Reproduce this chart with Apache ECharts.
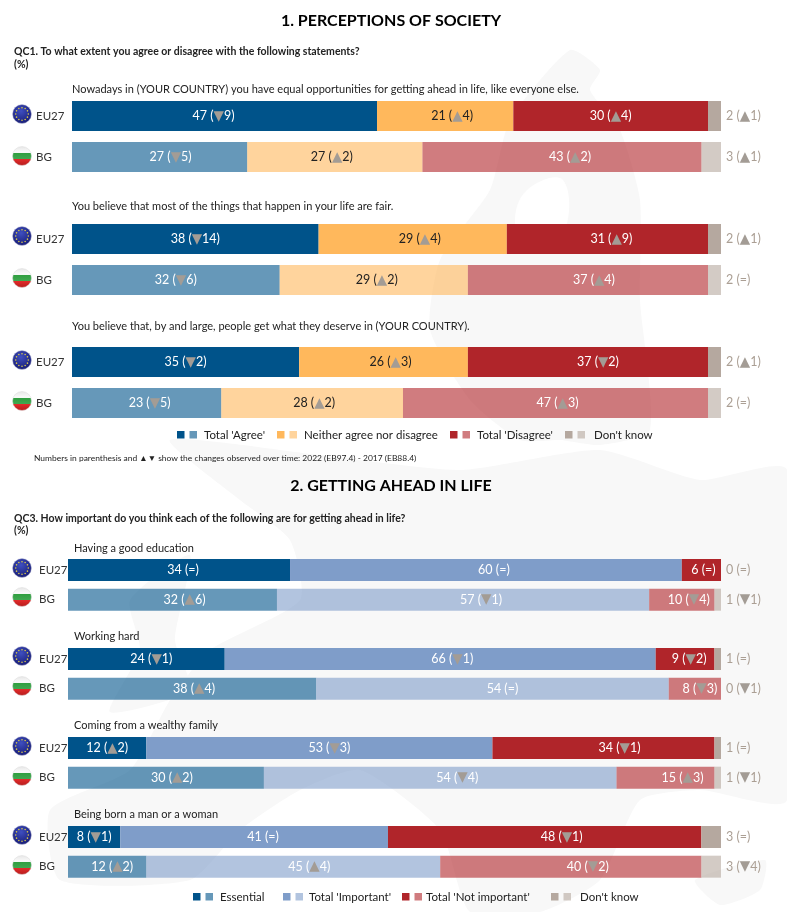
<!DOCTYPE html>
<html><head><meta charset="utf-8">
<style>html,body{margin:0;padding:0;background:#fff}#c{width:787px;height:912px}</style>
<script src="https://cdn.jsdelivr.net/npm/echarts@6/dist/echarts.min.js"></script>
</head><body><div id="c"></div>
<script>
const rowLabels1 = ['EU27','BG','','EU27','BG','','EU27','BG'];
const agree    = [47,27,'-',38,32,'-',35,23];
const neither  = [21,27,'-',29,29,'-',26,28];
const disagree = [30,43,'-',31,37,'-',37,47];
const dk1      = [2,3,'-',2,2,'-',2,2];
const agreeChg    = ['▼9','▼5','','▼14','▼6','','▼2','▼5'];
const neitherChg  = ['▲4','▲2','','▲4','▲2','','▲3','▲2'];
const disagreeChg = ['▲4','▲2','','▲9','▲4','','▼2','▲3'];
const dk1Chg      = ['▲1','▲1','','▲1','=','','▲1','='];

const rowLabels2 = ['EU27','BG','','EU27','BG','','EU27','BG','','EU27','BG'];
const essential = [34,32,'-',24,38,'-',12,30,'-',8,12];
const important = [60,57,'-',66,54,'-',53,54,'-',41,45];
const notImp    = [6,10,'-',9,8,'-',34,15,'-',48,40];
const dk2       = [0,1,'-',1,0,'-',1,1,'-',3,3];
const essentialChg = ['=','▲6','','▼1','▲4','','▲2','▲2','','▼1','▲2'];
const importantChg = ['=','▼1','','▼1','=','','▼3','▼4','','=','▲4'];
const notImpChg    = ['=','▼4','','▼2','▼3','','▼1','▲3','','▼1','▼2'];
const dk2Chg       = ['=','▼1','','=','▼1','','=','▼1','','=','▼4'];

const heading1 = '1. PERCEPTIONS OF SOCIETY';
const heading2 = '2. GETTING AHEAD IN LIFE';
const question1 = 'QC1. To what extent you agree or disagree with the following statements?';
const question2 = 'QC3. How important do you think each of the following are for getting ahead in life?';
const statements = ['Nowadays in (YOUR COUNTRY) you have equal opportunities for getting ahead in life, like everyone else.',
  'You believe that most of the things that happen in your life are fair.',
  'You believe that, by and large, people get what they deserve in (YOUR COUNTRY).'];
const factors = ['Having a good education','Working hard','Coming from a wealthy family','Being born a man or a woman'];
const note = 'Numbers in parenthesis and ▲▼ show the changes observed over time: 2022 (EB97.4) - 2017 (EB88.4)';
const legend1 = ["Total 'Agree'",'Neither agree nor disagree',"Total 'Disagree'","Don't know"];
const legend2 = ['Essential',"Total 'Important'","Total 'Not important'","Don't know"];

const FONT = 'Lato, "Open Sans", sans-serif';
const BLUE='#00538a', ORANGE='#ffb85c', RED='#b0252a', GREY='#b5a89f', MID='#7f9dc9';
const BG_ALPHA = 0.6;

/* horizontal label nudges in px (layout only), per series */
const NUDGE = {
  agree:[-11,11,0,0,0,0,0,3],
  neither:[7,-3,0,7,3,0,7,2],
  disagree:[0,8,0,4,6,0,10,2],
  essential:[4,12,0,5,2,0,0,6,0,0,5],
  important:[8,18,0,12,10,0,10,17,0,9,16],
  notImportant:[2,7,0,4,5,0,16,17,0,17,17]
};

function richLabel(color, size){
  return {
    color, fontFamily: FONT, fontSize: size,
    rich: { t: { color:'#a39c95', fontFamily:'"DejaVu Sans"', fontSize: size+1 } }
  };
}
function fmtChange(c){
  if (c === '=' ) return '(=)';
  return '({t|' + c[0] + '}' + c.slice(1) + ')';
}
function makeSeries(name, values, changes, color, axis, labelColor, outer, size){
  const nudge = NUDGE[name] || [];
  return {
    name, type:'bar', stack:'s'+axis, xAxisIndex:axis, yAxisIndex:axis,
    barWidth: axis === 0 ? 30 : 22, silent:true,
    data: values.map((v,i)=>({
      value:v,
      itemStyle:{ color: i%3===1 ? echarts.color.modifyAlpha(color,BG_ALPHA) : color },
      label:{ offset:[nudge[i]||0,0] }
    })),
    label: Object.assign({
      show:true, position: outer ? 'right' : 'inside', distance:5,
      formatter: p => p.value === '-' ? '' : p.value + ' ' + fmtChange(changes[p.dataIndex])
    }, richLabel(labelColor, size))
  };
}
const OUT = '#ab9f94';
const series = [
  makeSeries('agree',agree,agreeChg,BLUE,0,'#fff',false,12.5),
  makeSeries('neither',neither,neitherChg,ORANGE,0,'#222',false,12.5),
  makeSeries('disagree',disagree,disagreeChg,RED,0,'#fff',false,12.5),
  makeSeries('dk',dk1,dk1Chg,GREY,0,OUT,true,12.5),
  makeSeries('essential',essential,essentialChg,BLUE,1,'#fff',false,12.5),
  makeSeries('important',important,importantChg,MID,1,'#fff',false,12.5),
  makeSeries('notImportant',notImp,notImpChg,RED,1,'#fff',false,12.5),
  makeSeries('dk2',dk2,dk2Chg,GREY,1,OUT,true,12.5)
];

function t(text,left,top,size,weight,align,color){
  return {text,left,top,padding:0,textAlign:align||'left',
    textStyle:{fontFamily:FONT,fontSize:size,fontWeight:weight||'normal',color:color||'#222'}};
}
const titles = [
  t(heading1,391,13,16,'bold','center','#000'),
  t(heading2,391,478,16,'bold','center','#000'),
  t(question1,14,46,10.5,'bold'),
  t('(%)',14,59,10.5,'bold'),
  t(question2,14,513,10.5,'bold'),
  t('(%)',14,525,10.5,'bold'),
  t(statements[0],72,84,11),
  t(statements[1],72,201,11),
  t(statements[2],72,321,11),
  t(factors[0],74,543,11),
  t(factors[1],74,631,11),
  t(factors[2],74,720,11),
  t(factors[3],74,809,11),
  t(note,34,454,8.45)
];

/* decorative pale map watermark */
const MAP='#f8f8f8';
const land = [
  [[570,50],[600,70],[590,90],[620,130],[640,200],[640,300],[650,430],[600,445],[560,440],[520,440],[470,400],[430,330],[440,260],[490,190],[510,120]],
  [[170,440],[320,455],[460,470],[600,450],[700,480],[787,470],[787,800],[700,790],[640,800],[600,880],[540,912],[470,912],[440,830],[360,770],[300,790],[240,830],[190,880],[60,880],[50,810],[130,770],[170,700],[210,650],[300,600],[290,540],[240,500]],
  [[130,600],[190,555],[175,640],[190,690],[110,712],[140,650]],
  [[695,880],[765,860],[760,890],[720,905]]
];
const water = [ [[527,190],[563,180],[563,235],[530,250],[515,225]] ];
const gfx = [];
land.forEach(p=>gfx.push({type:'polygon',z:-10,silent:true,shape:{points:p,smooth:0.2},style:{fill:MAP}}));
water.forEach(p=>gfx.push({type:'polygon',z:-9,silent:true,shape:{points:p,smooth:0.4},style:{fill:'#fff'}}));

function euFlag(cx,cy){
  gfx.push({type:'circle',shape:{cx,cy,r:9.5},z:5,silent:true,style:{
    fill:new echarts.graphic.RadialGradient(.45,.35,.7,[{offset:0,color:'#3f4fc0'},{offset:1,color:'#14186e'}]),stroke:'#c9cbe0',lineWidth:.5}});
  for(let k=0;k<12;k++){
    const a=k*Math.PI/6;
    gfx.push({type:'circle',z:6,silent:true,shape:{cx:cx+6.3*Math.cos(a),cy:cy+6.3*Math.sin(a),r:.8},style:{fill:'#d9c94a'}});
  }
}
function bgFlag(cx,cy){
  gfx.push({type:'circle',shape:{cx,cy,r:9.5},z:5,silent:true,style:{
    fill:new echarts.graphic.LinearGradient(0,0,0,1,[
      {offset:0,color:'#e6e6e6'},{offset:.32,color:'#fbfbfb'},{offset:.34,color:'#2f9e3f'},
      {offset:.64,color:'#3fa850'},{offset:.66,color:'#e22b2b'},{offset:1,color:'#b51c1c'}]),stroke:'#ddd',lineWidth:.5}});
}
[[22,114,22,156],[22,236,22,278],[22,360,22,401],[22,568,22,597],[22,656,22,686],[22,746,22,776],[22,835,22,865]]
  .forEach(f=>{euFlag(f[0],f[1]);bgFlag(f[2],f[3]);});

function swatches(x,y,colors,size){
  colors.forEach((c,i)=>gfx.push({type:'rect',silent:true,shape:{x:x+i*12.5,y,width:size,height:size},style:{fill:c}}));
}
function legendText(text,x,y){
  gfx.push({type:'text',silent:true,x,y,style:{text,fill:'#222',fontFamily:FONT,fontSize:11.5,verticalAlign:'middle'}});
}
const light=c=>echarts.color.modifyAlpha(c,BG_ALPHA);
[[177,BLUE,204,0],[277,ORANGE,304,1],[450,RED,477,2],[565,GREY,594,3]].forEach(l=>{
  swatches(l[0],431,[l[1],light(l[1])],7.5); legendText(legend1[l[3]],l[2],435);
});
[[193,BLUE,220,0],[283,MID,309,1],[402,RED,426,2],[551,GREY,580,3]].forEach(l=>{
  swatches(l[0],893,[l[1],light(l[1])],7.5); legendText(legend2[l[3]],l[2],897);
});

const grid = [
  {left:72,top:95.5,width:649,height:328,outerBoundsMode:'none'},
  {left:68,top:555.2,width:653,height:326.3,outerBoundsMode:'none'}
];
const xAxis=[0,1].map(i=>({gridIndex:i,type:'value',min:0,max:100,show:false}));
const yAxis=[rowLabels1,rowLabels2].map((d,i)=>({
  gridIndex:i,type:'category',inverse:true,data:d,
  axisLine:{show:false},axisTick:{show:false},splitLine:{show:false},
  axisLabel:{align:'left',margin:i===0?36:29,color:'#333',fontFamily:FONT,fontSize:11.5,interval:0}
}));
const chart=echarts.init(document.getElementById('c'),null,{renderer:'canvas'});
chart.setOption({animation:false,backgroundColor:'#fff',title:titles,grid,xAxis,yAxis,series,graphic:gfx});
</script></body></html>
